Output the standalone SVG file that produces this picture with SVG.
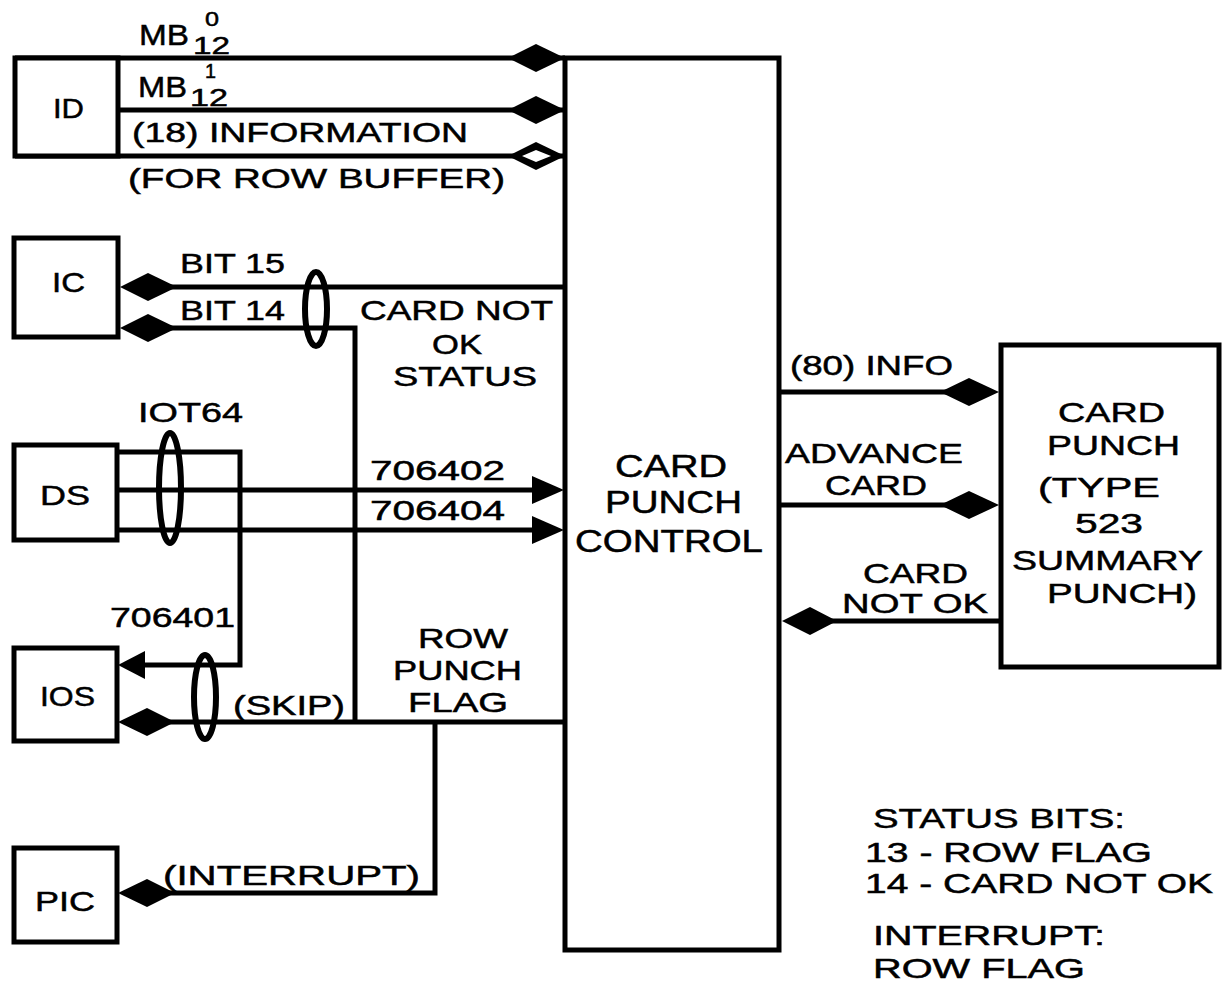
<svg xmlns="http://www.w3.org/2000/svg" width="1222" height="985" viewBox="0 0 1222 985">
<defs>
<style>
text{font-family:"Liberation Sans","DejaVu Sans",sans-serif;font-size:28px;fill:#000;stroke:#000;stroke-width:0.5}
.box{fill:#fff;stroke:#000;stroke-width:5}
.ln{fill:none;stroke:#000;stroke-width:5;stroke-linejoin:miter}
.ov{fill:none;stroke:#000;stroke-width:6}
.fd{fill:#000;stroke:none}
.mb{font-size:30px}
.sub{font-size:24px}
.sup{font-size:20px}
.big{font-size:31px}
</style>
</defs>
<rect width="1222" height="985" fill="#fff"/>

<g id="connectors">
  <!-- ID lines -->
  <path class="ln" d="M15 58 H565"/>
  <path class="ln" d="M118 110 H565"/>
  <path class="ln" d="M15 156 H565"/>
  <path class="fd" d="M565 58 L536 44 L508 58 L536 72 Z"/>
  <path class="fd" d="M565 110 L536 96 L508 110 L536 124 Z"/>
  <path class="fd" d="M565 156 L536 142 L508 156 L536 170 Z"/>
  <path fill="#fff" d="M551 156 L536 150 L522 156 L536 162 Z"/>
  <!-- IC lines -->
  <path class="ln" d="M150 287 H565"/>
  <path class="fd" d="M120 287 L148 273 L177 287 L148 301 Z"/>
  <path class="ln" d="M150 328 H355 V722"/>
  <path class="fd" d="M120 328 L148 314 L177 328 L148 342 Z"/>
  <ellipse class="ov" cx="316" cy="309" rx="11" ry="37"/>
  <!-- DS lines -->
  <path class="ln" d="M117 452 H240 V665 H140"/>
  <path class="fd" d="M118 665 L145 651 L145 679 Z"/>
  <path class="ln" d="M117 490 H540"/>
  <path class="fd" d="M564 490 L532 476 L532 504 Z"/>
  <path class="ln" d="M117 530 H540"/>
  <path class="fd" d="M564 530 L532 516 L532 544 Z"/>
  <ellipse class="ov" cx="170" cy="488" rx="11" ry="55"/>
  <!-- IOS skip / row punch flag -->
  <path class="ln" d="M150 722 H565"/>
  <path class="fd" d="M118 722 L147 708 L175 722 L147 736 Z"/>
  <ellipse class="ov" cx="205" cy="697" rx="11" ry="42"/>
  <path class="ln" d="M435 722 V893 H150"/>
  <path class="fd" d="M118 893 L147 879 L175 893 L147 907 Z"/>
  <!-- right side -->
  <path class="ln" d="M779 392 H975"/>
  <path class="fd" d="M999 392 L969 378 L940 392 L969 406 Z"/>
  <path class="ln" d="M779 505 H975"/>
  <path class="fd" d="M999 505 L969 491 L940 505 L969 519 Z"/>
  <path class="ln" d="M1001 621 H810"/>
  <path class="fd" d="M782 621 L810 607 L837 621 L810 635 Z"/>
</g>

<g id="ID">
  <rect class="box" x="15" y="58" width="103" height="98"/>
  <text x="53" y="118" textLength="31" lengthAdjust="spacingAndGlyphs">ID</text>
</g>
<g id="IC">
  <rect class="box" x="14" y="238" width="104" height="99"/>
  <text x="52" y="292" textLength="33" lengthAdjust="spacingAndGlyphs">IC</text>
</g>
<g id="DS">
  <rect class="box" x="14" y="445" width="103" height="95"/>
  <text x="40" y="505" textLength="50" lengthAdjust="spacingAndGlyphs">DS</text>
</g>
<g id="IOS">
  <rect class="box" x="14" y="648" width="103" height="93"/>
  <text x="40" y="706" textLength="55" lengthAdjust="spacingAndGlyphs">IOS</text>
</g>
<g id="PIC">
  <rect class="box" x="14" y="848" width="103" height="94"/>
  <text x="35" y="911" textLength="60" lengthAdjust="spacingAndGlyphs">PIC</text>
</g>
<g id="CPC">
  <rect class="box" x="565" y="58" width="214" height="892"/>
  <text class="big" x="615" y="477" textLength="112" lengthAdjust="spacingAndGlyphs">CARD</text>
  <text class="big" x="605" y="513" textLength="137" lengthAdjust="spacingAndGlyphs">PUNCH</text>
  <text class="big" x="575" y="552" textLength="188" lengthAdjust="spacingAndGlyphs">CONTROL</text>
</g>
<g id="CardPunch">
  <rect class="box" x="1001" y="345" width="218" height="322"/>
  <text x="1058" y="422" textLength="107" lengthAdjust="spacingAndGlyphs">CARD</text>
  <text x="1047" y="455" textLength="133" lengthAdjust="spacingAndGlyphs">PUNCH</text>
  <text x="1038" y="497" textLength="122" lengthAdjust="spacingAndGlyphs">(TYPE</text>
  <text x="1075" y="533" textLength="68" lengthAdjust="spacingAndGlyphs">523</text>
  <text x="1012" y="570" textLength="191" lengthAdjust="spacingAndGlyphs">SUMMARY</text>
  <text x="1047" y="603" textLength="150" lengthAdjust="spacingAndGlyphs">PUNCH)</text>
</g>

<g id="labels">
  <text class="mb" x="139" y="45" textLength="50" lengthAdjust="spacingAndGlyphs">MB</text>
  <text class="sub" x="193" y="54" textLength="37" lengthAdjust="spacingAndGlyphs">12</text>
  <text class="sup" x="205" y="26" textLength="14" lengthAdjust="spacingAndGlyphs">0</text>
  <text class="mb" x="138" y="97" textLength="49" lengthAdjust="spacingAndGlyphs">MB</text>
  <text class="sub" x="190" y="106" textLength="38" lengthAdjust="spacingAndGlyphs">12</text>
  <text class="sup" x="205" y="78" textLength="11" lengthAdjust="spacingAndGlyphs">1</text>
  <text x="132" y="142" textLength="336" lengthAdjust="spacingAndGlyphs">(18) INFORMATION</text>
  <text x="128" y="188" textLength="377" lengthAdjust="spacingAndGlyphs">(FOR ROW BUFFER)</text>
  <text x="180" y="273" textLength="105" lengthAdjust="spacingAndGlyphs">BIT 15</text>
  <text x="180" y="320" textLength="105" lengthAdjust="spacingAndGlyphs">BIT 14</text>
  <text x="360" y="320" textLength="193" lengthAdjust="spacingAndGlyphs">CARD NOT</text>
  <text x="432" y="354" textLength="50" lengthAdjust="spacingAndGlyphs">OK</text>
  <text x="393" y="386" textLength="144" lengthAdjust="spacingAndGlyphs">STATUS</text>
  <text x="138" y="422" textLength="105" lengthAdjust="spacingAndGlyphs">IOT64</text>
  <text x="370" y="480" textLength="135" lengthAdjust="spacingAndGlyphs">706402</text>
  <text x="370" y="520" textLength="135" lengthAdjust="spacingAndGlyphs">706404</text>
  <text x="110" y="627" textLength="125" lengthAdjust="spacingAndGlyphs">706401</text>
  <text x="233" y="715" textLength="112" lengthAdjust="spacingAndGlyphs">(SKIP)</text>
  <text x="418" y="648" textLength="90" lengthAdjust="spacingAndGlyphs">ROW</text>
  <text x="393" y="680" textLength="129" lengthAdjust="spacingAndGlyphs">PUNCH</text>
  <text x="408" y="712" textLength="100" lengthAdjust="spacingAndGlyphs">FLAG</text>
  <text x="163" y="885" textLength="257" lengthAdjust="spacingAndGlyphs">(INTERRUPT)</text>
  <text x="790" y="375" textLength="163" lengthAdjust="spacingAndGlyphs">(80) INFO</text>
  <text x="785" y="463" textLength="178" lengthAdjust="spacingAndGlyphs">ADVANCE</text>
  <text x="825" y="495" textLength="102" lengthAdjust="spacingAndGlyphs">CARD</text>
  <text x="863" y="583" textLength="105" lengthAdjust="spacingAndGlyphs">CARD</text>
  <text x="842" y="613" textLength="146" lengthAdjust="spacingAndGlyphs">NOT OK</text>
  <text x="873" y="828" textLength="252" lengthAdjust="spacingAndGlyphs">STATUS BITS:</text>
  <text x="865" y="862" textLength="287" lengthAdjust="spacingAndGlyphs">13 - ROW FLAG</text>
  <text x="865" y="893" textLength="348" lengthAdjust="spacingAndGlyphs">14 - CARD NOT OK</text>
  <text x="873" y="945" textLength="232" lengthAdjust="spacingAndGlyphs">INTERRUPT:</text>
  <text x="873" y="978" textLength="212" lengthAdjust="spacingAndGlyphs">ROW FLAG</text>
</g>
</svg>
